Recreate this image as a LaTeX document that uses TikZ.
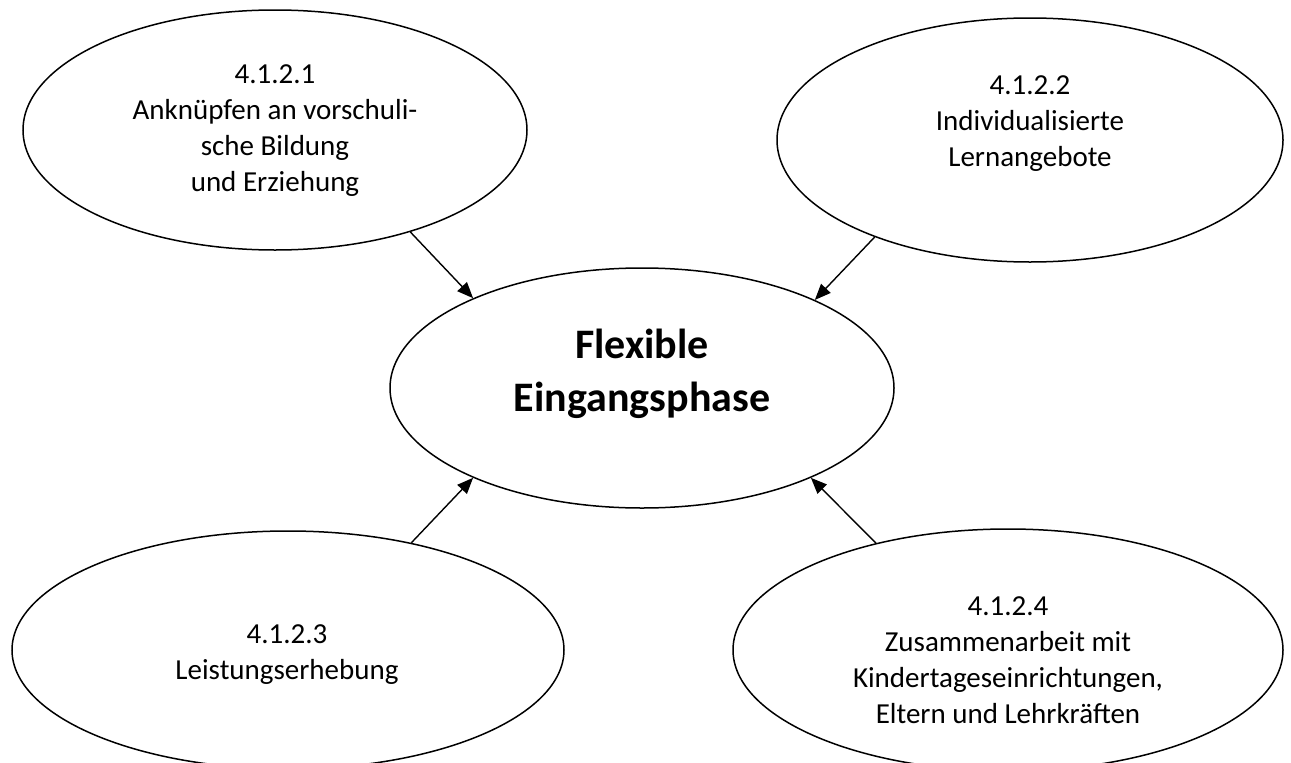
\documentclass[tikz,border=0pt]{standalone}
\usepackage{fontspec}
\setmainfont{Carlito}
\usetikzlibrary{shapes.geometric,arrows.meta}
\tikzset{
  oval/.style={draw=black, line width=1.5pt, ellipse, inner sep=0pt, fill=white},
  lbl/.style={align=center, font=\fontsize{29pt}{36pt}\selectfont, inner sep=0pt},
  mainlbl/.style={align=center, font=\fontsize{42pt}{53pt}\selectfont\bfseries, inner sep=0pt},
  link/.style={draw=black, line width=1.4pt, -{Triangle[length=16pt,width=13pt]}}
}
\begin{document}
\begin{tikzpicture}[x=1pt,y=-1pt]
\useasboundingbox (0,0) rectangle (1291,763);
\clip (0,0) rectangle (1291,763);
\fill[white] (0,0) rectangle (1291,763);
\node[oval, minimum width=504pt, minimum height=240pt] (e1) at (275,130) {};
\node[oval, minimum width=506pt, minimum height=244pt] (e2) at (1030,140) {};
\node[oval, minimum width=504pt, minimum height=240pt] (e5) at (642,388) {};
\node[oval, minimum width=552pt, minimum height=238pt] (e3) at (288,650) {};
\node[oval, minimum width=550pt, minimum height=242pt] (e4) at (1008,650) {};
\node[lbl] (t1) at (275,131) {4.1.2.1\\Anknüpfen an vorschuli-\\sche Bildung\\und Erziehung};
\node[lbl] (t2) at (1030,124) {4.1.2.2\\Individualisierte\\Lernangebote};
\node[mainlbl] (t5) at (642,374) {Flexible\\Eingangsphase};
\node[lbl] (t3) at (287,655) {4.1.2.3\\Leistungserhebung};
\node[lbl] (t4) at (1008,660) {4.1.2.4\\Zusammenarbeit mit\\Kindertageseinrichtungen,\\Eltern und Lehrkräften};
\draw[link] (e1.-37) -- (e5.152);
\draw[link] (e2.212) -- (e5.27.5);
\draw[link] (e3.41) -- (e5.208);
\draw[link] (e4.141) -- (e5.-28);
\end{tikzpicture}
\end{document}
